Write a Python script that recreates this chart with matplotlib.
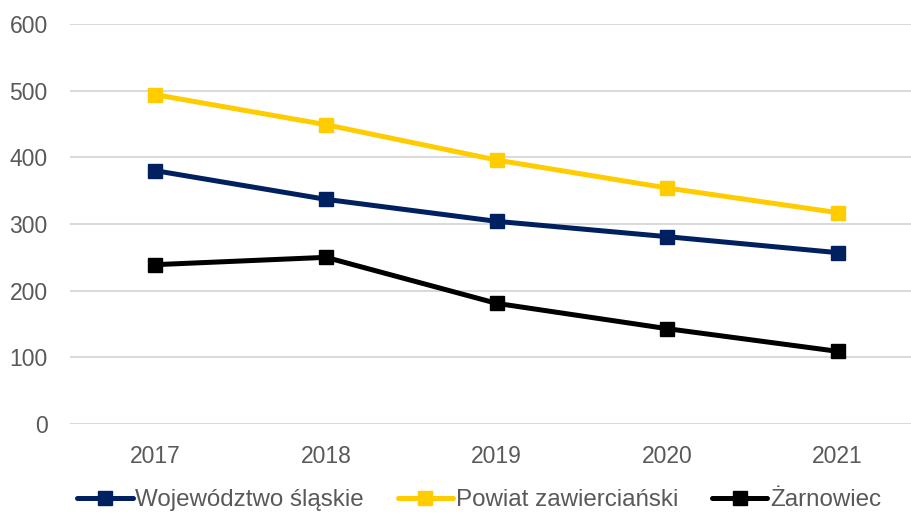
import matplotlib
matplotlib.use("Agg")
import matplotlib.pyplot as plt

years = ["2017", "2018", "2019", "2020", "2021"]
wojewodztwo = [380, 337, 304, 281, 257]
powiat = [494, 449, 396, 354, 317]
zarnowiec = [239, 250, 181, 143, 109]

series_names = ["Województwo śląskie", "Powiat zawierciański", "Żarnowiec"]
colors = ["#002060", "#FFCC00", "#000000"]

plt.rcParams['font.family'] = ['Liberation Sans', 'DejaVu Sans']

fig = plt.figure(figsize=(9.12, 5.15), dpi=100)
ax = fig.add_axes([70/912, 1-424/515, (923-70)/912, 400/515])

x = list(range(len(years)))
for vals, name, c in zip([wojewodztwo, powiat, zarnowiec], series_names, colors):
    ax.plot(x, vals, color=c, lw=3.6, marker='s', markersize=10, label=name,
            solid_capstyle='round', zorder=3, clip_on=False)

ax.set_xlim(-0.5, len(years)-0.5)
ax.set_ylim(0, 600)
ax.set_yticks(range(0, 601, 100))
ax.set_xticks(x)
ax.set_xticklabels(years)
ax.grid(axis='y', color='#d9d9d9', lw=1.4)
ax.set_axisbelow(True)
for s in ax.spines.values():
    s.set_visible(False)
ax.tick_params(axis='both', length=0, labelsize=16.5, labelcolor='#595959')
ax.tick_params(axis='x', pad=15)
ax.tick_params(axis='y', pad=16)

fig.legend(loc='center', bbox_to_anchor=(479/912, 1-500/515), ncol=3, frameon=False,
           fontsize=17.4, labelcolor='#595959', handlelength=2.3, handletextpad=0.1,
           columnspacing=1.4, borderpad=0, borderaxespad=0)

fig.savefig("out.png", dpi=100)
